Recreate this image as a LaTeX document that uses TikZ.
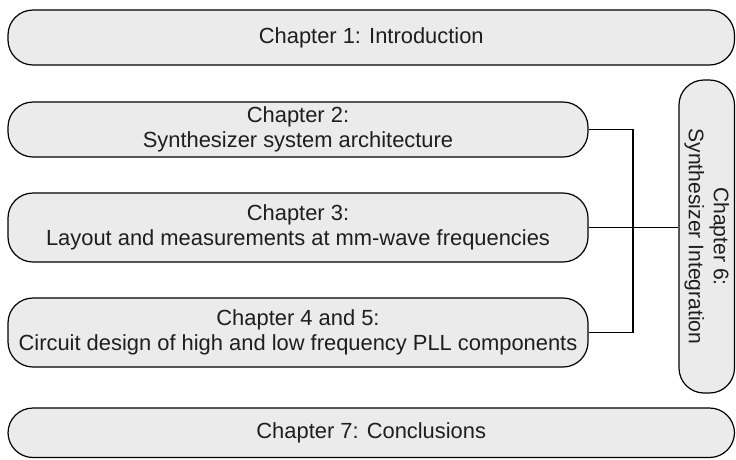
\documentclass[tikz,border=0pt]{standalone}
\usepackage{fontspec}
\setmainfont{Liberation Sans}
\definecolor{boxfill}{HTML}{EBEBEB}
\definecolor{txt}{HTML}{1E1E1E}
\begin{document}
\begin{tikzpicture}[x=1pt,y=-1pt,
  chap/.style={draw=black, line width=1.2pt, fill=boxfill, rounded corners=25pt,
    inner sep=0pt, align=center, text=txt,
    font=\fontsize{21.9}{25}\selectfont},
  link/.style={draw=black, line width=1.1pt}]
\useasboundingbox (0,0) rectangle (736,459);
\node[chap, minimum width=726.5pt, minimum height=55pt] (c1) at (371.25,37.5) {Chapter 1: Introduction};
\node[chap, minimum width=580pt, minimum height=55pt] (c2) at (298,129.5) {Chapter 2:\\Synthesizer system architecture};
\node[chap, minimum width=580pt, minimum height=69pt] (c3) at (298,227.5) {Chapter 3:\\Layout and measurements at mm-wave frequencies};
\node[chap, minimum width=580pt, minimum height=69pt] (c4) at (298,332.5) {Chapter 4 and 5:\\Circuit design of high and low frequency PLL components};
\node[chap, minimum width=726.5pt, minimum height=49.5pt] (c7) at (371.25,432.75) {Chapter 7: Conclusions};
\node[chap, minimum width=313pt, minimum height=55.5pt, rotate=-90,
  font=\fontsize{21.1}{25}\selectfont] (c6) at (706.75,236.5) {Chapter 6:\\Synthesizer Integration};
\coordinate (j2) at (633,129.5);
\coordinate (j4) at (633,332.5);
\draw[link] (c2.east) -- (j2) -- (j4) -- (c4.east);
\draw[link] (c3.east) -- (c3.east -| c6.south);
\end{tikzpicture}
\end{document}
